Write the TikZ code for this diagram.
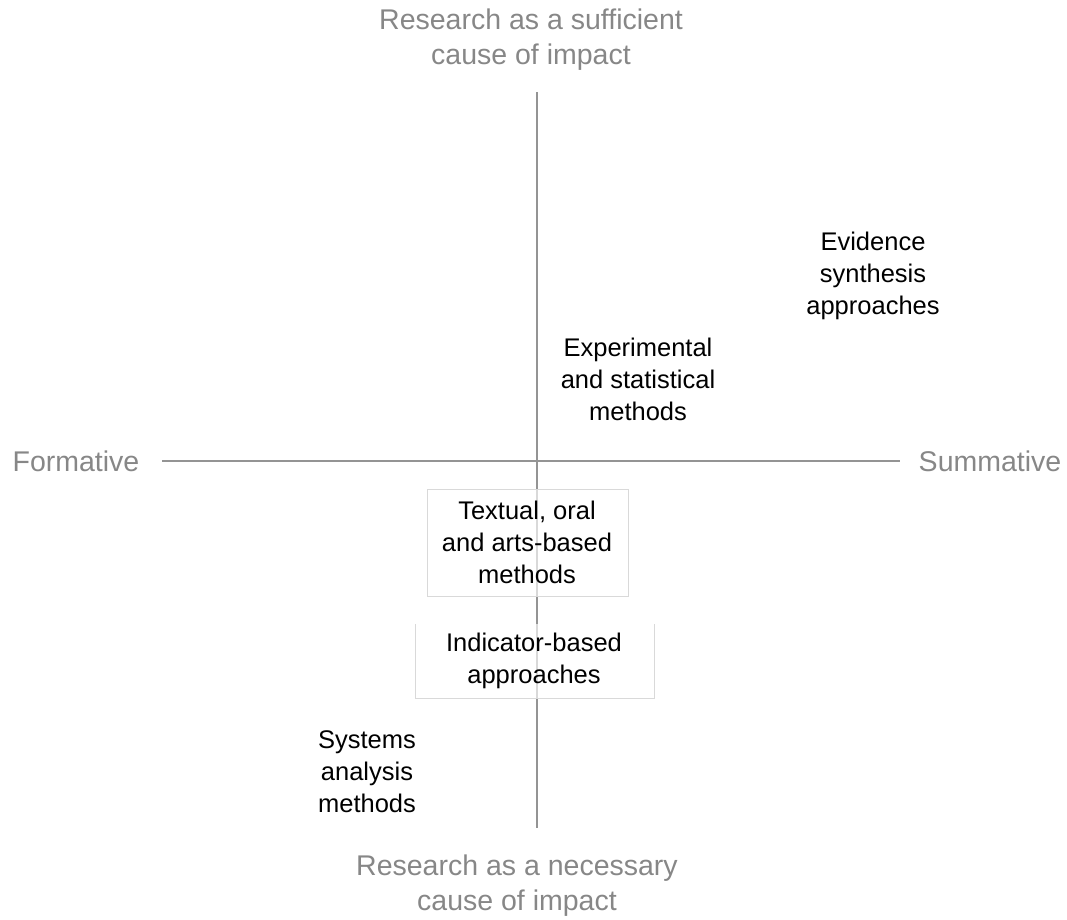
\documentclass[tikz,border=0pt]{standalone}
\usepackage{fontspec}
\setmainfont{Liberation Sans}
\begin{document}
\begin{tikzpicture}[x=1pt,y=-1pt,
  axislabel/.style={text=black!47, font=\fontsize{28.5}{35}\selectfont, align=center, inner sep=0pt},
  method/.style={text=black, font=\fontsize{25.5}{32}\selectfont, align=center, inner sep=0pt},
  axisline/.style={draw=black!42, line width=1.3pt},
  boxfill/.style={fill=white, fill opacity=0.65}]
\useasboundingbox (0,0) rectangle (1067,919);
\coordinate (top) at (537,92);
\coordinate (bot) at (537,828);
\coordinate (lft) at (162,461);
\coordinate (rgt) at (900,461);
\draw[axisline] (top) -- (bot);
\draw[axisline] (lft) -- (rgt);
% boxes
\fill[boxfill] (427,489) rectangle (628,596);
\draw[black!15, line width=1pt] (427,489) rectangle (628,596);
\fill[boxfill] (415,624) rectangle (654,698);
\draw[black!15, line width=1pt] (415,624) -- (415,698) -- (654,698) -- (654,624);
% labels
\node[axislabel] (sufficient) at (531,40) {Research as a sufficient\\cause of impact};
\node[axislabel] (necessary) at (517,886) {Research as a necessary\\cause of impact};
\node[axislabel] (formative) at (76,461) {Formative};
\node[axislabel] (summative) at (990,461) {Summative};
\node[method] (evidence) at (873,276) {Evidence\\synthesis\\approaches};
\node[method] (experimental) at (638,379) {Experimental\\and statistical\\methods};
\node[method] (textual) at (527,542) {Textual, oral\\and arts-based\\methods};
\node[method] (indicator) at (534,661) {Indicator-based\\approaches};
\node[method] (systems) at (367,772) {Systems\\analysis\\methods};
\end{tikzpicture}
\end{document}
